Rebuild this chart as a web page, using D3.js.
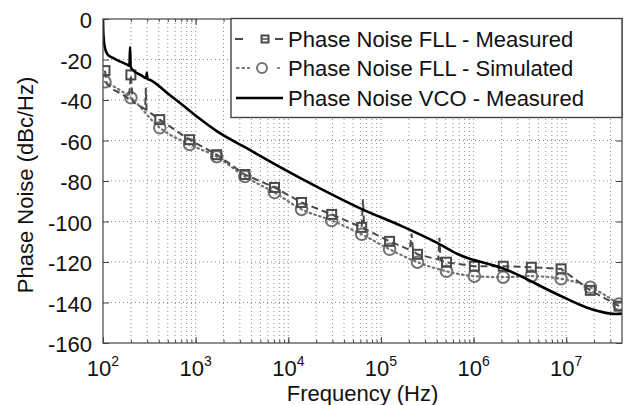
<!DOCTYPE html>
<html>
<head>
<meta charset="utf-8">
<script src="https://cdn.jsdelivr.net/npm/d3@7"></script>
<style>
	body { margin: 0; background: #fff; }
	text { font-family: "Liberation Sans", Arial, Helvetica, sans-serif; fill: #111; }
</style>
</head>
<body>
<div id="chart"></div>
<script>

///////////////////////
/// Data (read off) ///
///////////////////////

// frequencies (Hz) where the FLL markers sit
let markerFreq = [105, 200, 410, 860, 1690, 3400, 7100, 13900, 29400, 62000, 124000, 248000, 510000, 1.02e6, 2.09e6, 4.2e6, 8.8e6, 1.82e7, 3.72e7];

// FLL measured, at the markers (dBc/Hz)
let measDb = [-25.5, -27.6, -49.7, -59.6, -67, -76.8, -83.2, -90.6, -96.5, -102.9, -109.8, -116.2, -120.1, -122.1, -122.1, -122.6, -123.4, -134, -141.8];

// FLL measured, extra points between markers (spurs)
let measSpurFreq = [110, 130, 160, 190, 210, 250, 285, 290, 295, 64000, 66000, 205000, 214000, 222000, 415000, 428000, 440000];
let measSpurDb = [-32, -35, -37, -39.5, -41, -43, -44.5, -34, -45, -89, -103.5, -114, -106, -114.5, -118.8, -108, -119.2];

// FLL simulated, at the markers
let simDb = [-31, -38.9, -53.7, -62, -68, -77.8, -85.7, -94, -99.5, -106.3, -113.7, -120.1, -124.6, -127, -127.5, -127, -128.3, -132.5, -140.8];

// VCO measured
let vcoFreq = [100, 100.5, 101.5, 103, 106, 112, 125, 150, 180, 193, 196, 199, 210, 260, 292, 297, 302, 320, 489, 728, 1109, 1690, 3556, 8070, 21700, 63000, 170000, 395000, 690000, 2.14e6, 8.4e6, 1.63e7, 2.25e7, 3.4e7, 4e7];
let vcoDb = [0, -5, -9, -12, -15, -17.5, -19, -20.8, -22.4, -23, -13.8, -23.6, -25.2, -27.8, -29.2, -26.6, -29.6, -30, -36.4, -42.6, -49.3, -55.4, -63.8, -73, -83.5, -94, -102.4, -110.3, -116.3, -123.4, -136.4, -142.3, -144.3, -145.7, -145.5];

// axes
let yTicks = [0, -20, -40, -60, -80, -100, -120, -140, -160];
let xExponents = [2, 3, 4, 5, 6, 7];

let seriesNames = ["Phase Noise FLL - Measured", "Phase Noise FLL - Simulated", "Phase Noise VCO - Measured"];


function phaseNoiseChart(width, height, selector) {

	///////////////////////////////////////////
	//// Dimensions, scales and generators ////
	///////////////////////////////////////////

	let margin = { top: 19, left: 103, right: 12, bottom: 62 };
	let chartWidth = width - margin.left - margin.right;
	let chartHeight = height - margin.top - margin.bottom;

	let frameColor = "#444";
	let measColor = "#4a4a4a";
	let simColor = "#737373";

	let xPositionScale = d3.scaleLog()
		.domain([100, 4e7])
		.range([0, chartWidth]);

	let yPositionScale = d3.scaleLinear()
		.domain([-160, 0])
		.range([chartHeight, 0]);

	let line = d3.line()
		.x(d => xPositionScale(d.f))
		.y(d => yPositionScale(d.v));

	let measPoints = markerFreq.map((f, i) => ({ f: f, v: measDb[i] }));
	let measLine = measPoints
		.concat(measSpurFreq.map((f, i) => ({ f: f, v: measSpurDb[i] })))
		.sort((a, b) => a.f - b.f);
	let simPoints = markerFreq.map((f, i) => ({ f: f, v: simDb[i] }));
	let vcoPoints = vcoFreq.map((f, i) => ({ f: f, v: vcoDb[i] }));

	let svg = d3.select(selector)
		.append("svg")
		.attr("width", width)
		.attr("height", height);

	let chart = svg.append("g")
		.attr("transform", "translate(" + margin.left + "," + margin.top + ")");

	chart.append("clipPath")
		.attr("id", "plot-clip")
		.append("rect")
		.attr("width", chartWidth)
		.attr("height", chartHeight);

	////////////
	/// Grid ///
	////////////

	let allXTicks = xPositionScale.ticks().filter(t => t < 4e7 * 0.999);
	let majorXTicks = xExponents.map(e => Math.pow(10, e));

	chart.append("g")
		.selectAll("line")
		.data(allXTicks.filter(t => t > 100))
		.join("line")
		.attr("x1", d => xPositionScale(d))
		.attr("x2", d => xPositionScale(d))
		.attr("y1", 0)
		.attr("y2", chartHeight)
		.attr("stroke", "#8a8a8a")
		.attr("stroke-width", 1)
		.attr("stroke-dasharray", "1,3");

	chart.append("g")
		.selectAll("line")
		.data(yTicks.filter(t => t > -160 && t < 0))
		.join("line")
		.attr("x1", 0)
		.attr("x2", chartWidth)
		.attr("y1", d => yPositionScale(d))
		.attr("y2", d => yPositionScale(d))
		.attr("stroke", "#8a8a8a")
		.attr("stroke-width", 1)
		.attr("stroke-dasharray", "1,3");

	/////////////
	/// Ticks ///
	/////////////

	function tickAxis(axis, transform) {
		let g = chart.append("g")
			.attr("transform", transform)
			.call(axis);
		g.select(".domain").remove();
		g.selectAll("line").attr("stroke", frameColor);
		g.selectAll("text").remove();
	}

	tickAxis(d3.axisBottom(xPositionScale).tickValues(allXTicks).tickSize(-3), "translate(0," + chartHeight + ")");
	tickAxis(d3.axisBottom(xPositionScale).tickValues(majorXTicks).tickSize(-6), "translate(0," + chartHeight + ")");
	tickAxis(d3.axisTop(xPositionScale).tickValues(allXTicks).tickSize(-3), "translate(0,0)");
	tickAxis(d3.axisTop(xPositionScale).tickValues(majorXTicks).tickSize(-6), "translate(0,0)");
	tickAxis(d3.axisLeft(yPositionScale).tickValues(yTicks).tickSize(-6), "translate(0,0)");
	tickAxis(d3.axisRight(yPositionScale).tickValues(yTicks).tickSize(-6), "translate(" + chartWidth + ",0)");

	//////////////
	/// Series ///
	//////////////

	let plot = chart.append("g").attr("clip-path", "url(#plot-clip)");

	plot.append("path")
		.datum(simPoints)
		.attr("d", line.curve(d3.curveMonotoneX))
		.attr("fill", "none")
		.attr("stroke", simColor)
		.attr("stroke-width", 2.2)
		.attr("stroke-dasharray", "1.5,3.5")
		.attr("stroke-linecap", "round");

	plot.append("g")
		.selectAll("circle")
		.data(simPoints)
		.join("circle")
		.attr("cx", d => xPositionScale(d.f))
		.attr("cy", d => yPositionScale(d.v))
		.attr("r", 5.8)
		.attr("fill", "none")
		.attr("stroke", simColor)
		.attr("stroke-width", 2);

	plot.append("path")
		.datum(measLine)
		.attr("d", line.curve(d3.curveLinear))
		.attr("fill", "none")
		.attr("stroke", measColor)
		.attr("stroke-width", 2)
		.attr("stroke-dasharray", "7,4");

	plot.append("g")
		.selectAll("rect")
		.data(measPoints)
		.join("rect")
		.attr("x", d => xPositionScale(d.f) - 4.5)
		.attr("y", d => yPositionScale(d.v) - 4.5)
		.attr("width", 9)
		.attr("height", 9)
		.attr("fill", "none")
		.attr("stroke", measColor)
		.attr("stroke-width", 2);

	plot.append("path")
		.datum(vcoPoints)
		.attr("d", line.curve(d3.curveMonotoneX))
		.attr("fill", "none")
		.attr("stroke", "#000")
		.attr("stroke-width", 2.6)
		.attr("stroke-linejoin", "round");

	/////////////
	/// Frame ///
	/////////////

	chart.append("rect")
		.attr("width", chartWidth)
		.attr("height", chartHeight)
		.attr("fill", "none")
		.attr("stroke", frameColor)
		.attr("stroke-width", 1.2);

	//////////////
	/// Labels ///
	//////////////

	chart.append("g")
		.selectAll("text")
		.data(yTicks)
		.join("text")
		.attr("x", -11)
		.attr("y", d => yPositionScale(d) + 9)
		.attr("text-anchor", "end")
		.style("font-size", "22px")
		.text(d => d);

	let xLabels = chart.append("g")
		.selectAll("text")
		.data(xExponents)
		.join("text")
		.attr("x", d => xPositionScale(Math.pow(10, d)))
		.attr("y", chartHeight + 33)
		.attr("text-anchor", "middle")
		.style("font-size", "22px");

	xLabels.append("tspan").text("10");
	xLabels.append("tspan")
		.attr("dy", -10)
		.style("font-size", "14px")
		.text(d => d);

	svg.append("text")
		.attr("x", margin.left + chartWidth / 2)
		.attr("y", 401)
		.attr("text-anchor", "middle")
		.style("font-size", "22px")
		.text("Frequency (Hz)");

	svg.append("text")
		.attr("transform", "translate(33,185) rotate(-90)")
		.attr("text-anchor", "middle")
		.style("font-size", "22px")
		.text("Phase Noise (dBc/Hz)");

	//////////////
	/// Legend ///
	//////////////

	let legend = svg.append("g").attr("class", "legend");

	legend.append("rect")
		.attr("x", 231)
		.attr("y", 18.5)
		.attr("width", 391)
		.attr("height", 99)
		.attr("fill", "#fff")
		.attr("stroke", frameColor)
		.attr("stroke-width", 1.4);

	let rowY = [39, 68, 98];

	// measured: dash, square, dash
	legend.append("line").attr("x1", 235).attr("x2", 243).attr("y1", rowY[0]).attr("y2", rowY[0])
		.attr("stroke", measColor).attr("stroke-width", 2);
	legend.append("line").attr("x1", 275).attr("x2", 283).attr("y1", rowY[0]).attr("y2", rowY[0])
		.attr("stroke", measColor).attr("stroke-width", 2);
	legend.append("rect").attr("x", 261.5).attr("y", rowY[0] - 3.5).attr("width", 7).attr("height", 7)
		.attr("fill", "none").attr("stroke", measColor).attr("stroke-width", 2);
	legend.append("line").attr("x1", 262).attr("x2", 268).attr("y1", rowY[0]).attr("y2", rowY[0])
		.attr("stroke", measColor).attr("stroke-width", 1.5);

	// simulated: dots, circle, dot
	legend.append("line").attr("x1", 237).attr("x2", 249).attr("y1", rowY[1]).attr("y2", rowY[1])
		.attr("stroke", simColor).attr("stroke-width", 2.2)
		.attr("stroke-dasharray", "1.5,4").attr("stroke-linecap", "round");
	legend.append("line").attr("x1", 278).attr("x2", 279).attr("y1", rowY[1]).attr("y2", rowY[1])
		.attr("stroke", simColor).attr("stroke-width", 2.2).attr("stroke-linecap", "round");
	legend.append("circle").attr("cx", 262).attr("cy", rowY[1]).attr("r", 5)
		.attr("fill", "none").attr("stroke", simColor).attr("stroke-width", 2);

	// vco: solid
	legend.append("line").attr("x1", 236).attr("x2", 283).attr("y1", rowY[2]).attr("y2", rowY[2])
		.attr("stroke", "#000").attr("stroke-width", 2.6);

	legend.selectAll("text.legend-label")
		.data(seriesNames)
		.join("text")
		.attr("class", "legend-label")
		.attr("x", 288)
		.attr("y", (d, i) => rowY[i] + 8)
		.style("font-size", "22px")
		.text(d => d);
}

phaseNoiseChart(634, 405, "#chart");
</script>
</body>
</html>
